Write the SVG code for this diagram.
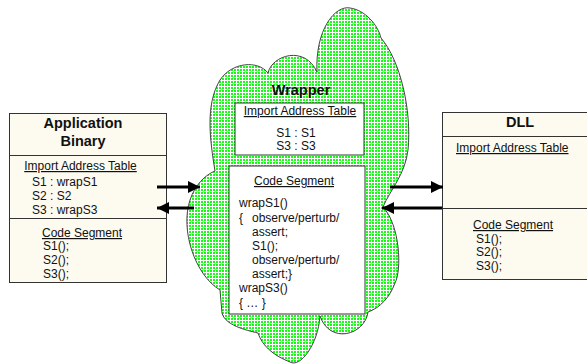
<svg xmlns="http://www.w3.org/2000/svg" width="587" height="364" viewBox="0 0 587 364">
<style>
  text { font-family: "Liberation Sans", Arial, sans-serif; fill: #111; }
  .t { font-size: 12px; }
  .title { font-size: 14.5px; font-weight: bold; }
  .u { text-decoration: underline; }
  .box { fill: #fdfaf0; stroke: #333; stroke-width: 1; }
  .wbox { fill: #ffffff; stroke: #333; stroke-width: 1; }
  .div { stroke: #333; stroke-width: 1; }
  .conn { stroke: #000; stroke-width: 3; fill: none; marker-end: url(#arrow); }
  .cloud { fill: url(#dots); stroke: #444; stroke-width: 1; }
</style>
<defs>
  <pattern id="dots" width="3" height="3" patternUnits="userSpaceOnUse">
    <rect width="3" height="3" fill="#ffffff"/>
    <rect width="2" height="2" fill="#11ff11"/>
  </pattern>
  <marker id="arrow" markerUnits="userSpaceOnUse" markerWidth="12" markerHeight="12" refX="12" refY="6" orient="auto">
    <path d="M0,0 L12,6 L0,12 z" fill="#000"/>
  </marker>
</defs>
<rect width="587" height="364" fill="#ffffff"/>

<g id="wrapper">
  <path class="cloud" d="M215,171 C210,140 205,105 220,80 C232,62 258,60 268,73 C272,55 305,45 317,72 C315,30 335,5 350,8 C365,10 378,25 381,38 C400,60 412,110 408,150 C405,175 390,190 383,207 C400,225 402,270 395,283 C390,297 380,308 368,312 C365,335 330,345 320,316 C318,345 300,368 290,362 C272,355 262,345 258,333 C245,330 225,325 222,313 L220,290 C195,275 180,230 190,200 C195,185 205,175 215,171 Z"/>
  <text class="title" x="301" y="95" text-anchor="middle">Wrapper</text>
  <rect class="wbox" x="235" y="103" width="129" height="52"/>
  <text class="t u" x="300" y="115" text-anchor="middle">Import Address Table</text>
  <text class="t" x="296" y="137" text-anchor="middle">S1 : S1</text>
  <text class="t" x="296" y="150" text-anchor="middle">S3 : S3</text>
  <rect class="wbox" x="229" y="166" width="136" height="148"/>
  <text class="t u" x="294" y="185" text-anchor="middle">Code Segment</text>
  <text class="t" x="239" y="207">wrapS1()</text>
  <text class="t" x="239" y="222">{</text>
  <text class="t" x="252" y="222">observe/perturb/</text>
  <text class="t" x="252" y="236">assert;</text>
  <text class="t" x="252" y="250">S1();</text>
  <text class="t" x="252" y="264">observe/perturb/</text>
  <text class="t" x="252" y="278">assert;}</text>
  <text class="t" x="239" y="292">wrapS3()</text>
  <text class="t" x="239" y="307">{ … }</text>
</g>

<g id="app-binary">
  <rect class="box" x="9.5" y="113.5" width="157" height="169"/>
  <line class="div" x1="9.5" y1="155.5" x2="166.5" y2="155.5"/>
  <line class="div" x1="9.5" y1="218.5" x2="166.5" y2="218.5"/>
  <text class="title" x="83" y="128" text-anchor="middle">Application</text>
  <text class="title" x="83" y="146" text-anchor="middle">Binary</text>
  <text class="t u" x="80.5" y="170" text-anchor="middle">Import Address Table</text>
  <text class="t" x="32" y="186">S1 : wrapS1</text>
  <text class="t" x="32" y="200">S2 : S2</text>
  <text class="t" x="32" y="214">S3 : wrapS3</text>
  <text class="t u" x="82" y="237" text-anchor="middle">Code Segment</text>
  <text class="t" x="43" y="250">S1();</text>
  <text class="t" x="43" y="264">S2();</text>
  <text class="t" x="43" y="278">S3();</text>
</g>

<g id="dll">
  <rect class="box" x="442.5" y="112.5" width="160" height="167"/>
  <line class="div" x1="442.5" y1="136.5" x2="590" y2="136.5"/>
  <line class="div" x1="442.5" y1="208.5" x2="590" y2="208.5"/>
  <text class="title" x="520" y="127" text-anchor="middle">DLL</text>
  <text class="t u" x="456" y="152">Import Address Table</text>
  <text class="t u" x="473" y="229">Code Segment</text>
  <text class="t" x="476" y="243">S1();</text>
  <text class="t" x="476" y="256">S2();</text>
  <text class="t" x="476" y="270">S3();</text>
</g>

<g id="connectors">
  <line class="conn" x1="157" y1="187" x2="200" y2="187"/>
  <line class="conn" x1="194" y1="208" x2="157" y2="208"/>
  <line class="conn" x1="390" y1="187" x2="443" y2="187"/>
  <line class="conn" x1="442" y1="208" x2="382" y2="208"/>
</g>
</svg>
